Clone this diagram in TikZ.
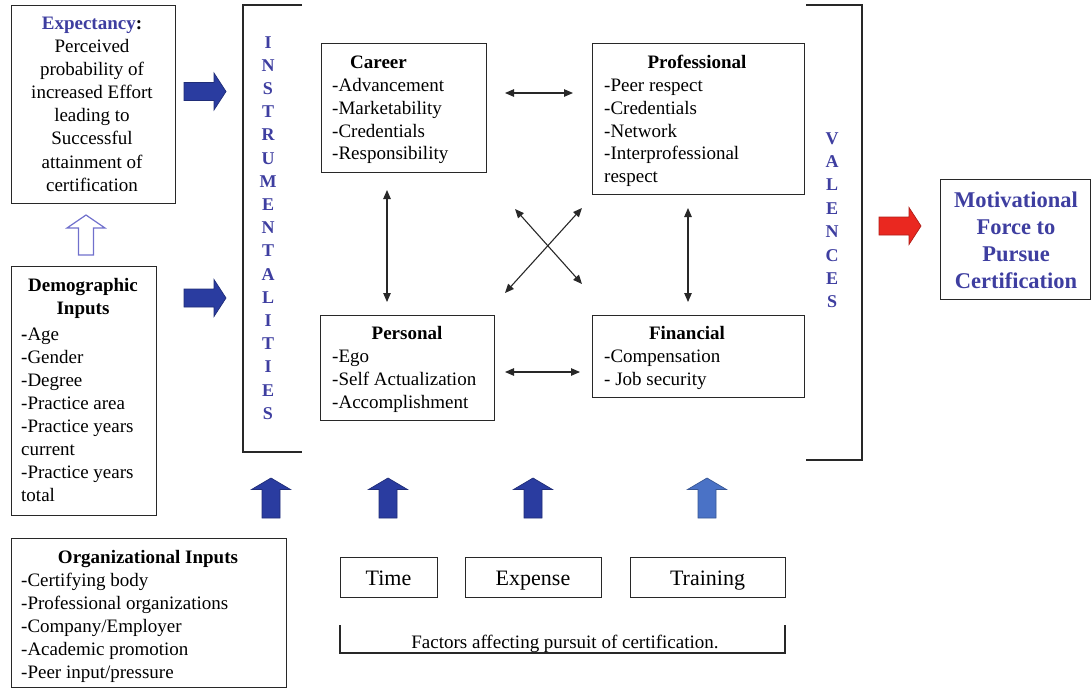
\documentclass[tikz,border=0pt]{standalone}
\usepackage{fontspec}
\setmainfont{Liberation Serif}
\usetikzlibrary{arrows.meta}
\definecolor{tblue}{RGB}{62,62,160}
\definecolor{ablue}{RGB}{42,60,160}
\definecolor{lblue}{RGB}{74,114,198}
\definecolor{ared}{RGB}{234,40,32}
\definecolor{hollowc}{RGB}{112,112,204}
\definecolor{linec}{RGB}{40,40,40}
\newcommand\myuparrow[3]{%
  \filldraw[fill=#3,draw=#3!75!black,line width=0.7] (#1,#2) -- ++(19.5,11.5) -- ++(-10.5,0) -- ++(0,28.5) -- ++(-18,0) -- ++(0,-28.5) -- ++(-10.5,0) -- cycle;}
\newcommand\myrightarrow[3]{%
  \filldraw[fill=#3,draw=#3!75!black,line width=0.7] (#1,#2) -- ++(-12,-18.5) -- ++(0,9.5) -- ++(-30,0) -- ++(0,18) -- ++(30,0) -- ++(0,9.5) -- cycle;}
\tikzset{
  boxn/.style={draw=linec, line width=1.3, inner sep=0, anchor=north west},
  txt/.style={inner sep=0, anchor=base west},
  ctr/.style={inner sep=0, anchor=base},
  dbl/.style={{Triangle[length=9pt,width=7.5pt]}-{Triangle[length=9pt,width=7.5pt]}, line width=1.1, draw=linec},
  brk/.style={draw=linec, line width=1.3},
}
\begin{document}
\begin{tikzpicture}[x=1pt,y=-1pt,font=\fontsize{19}{23}\selectfont]
\useasboundingbox (0,0) rectangle (1091,689);

% ---- Expectancy
\node[boxn, minimum width=164, minimum height=198] (exp) at (11,5) {};
\node[ctr, text=tblue] (e0) at (92,29) {\bfseries Expectancy\textcolor{black}{:}};
\foreach \t [count=\i from 0] in {Perceived,probability of,increased Effort,leading to,Successful,attainment of,certification}
  \node[ctr] (e\i x) at (92,52.5+23.1*\i) {\t};

% hollow arrow
\draw[draw=hollowc, line width=1.2] (86,215) -- ++(19,13) -- ++(-11.5,0) -- ++(0,27) -- ++(-15,0) -- ++(0,-27) -- ++(-11.5,0) -- cycle;

% ---- Demographic
\node[boxn, minimum width=145, minimum height=249] (demo) at (11,266) {};
\node[ctr] (d0) at (83,291) {\bfseries Demographic};
\node[ctr] (d1) at (83,314) {\bfseries Inputs};
\foreach \t [count=\i from 0] in {{\bfseries -}Age,-Gender,-Degree,-Practice area,-Practice years,current,-Practice years,total}
  \node[txt] (d\i x) at (21,340+23*\i) {\t};

% ---- Organizational
\node[boxn, minimum width=275, minimum height=149] (org) at (11,538) {};
\node[ctr] (o0) at (148,563) {\bfseries Organizational Inputs};
\foreach \t [count=\i from 0] in {-Certifying body,-Professional organizations,-Company/Employer,-Academic promotion,-Peer input/pressure}
  \node[txt] (o\i x) at (21,586+23*\i) {\t};

% blue right arrows
\myrightarrow{226}{91.5}{ablue}
\myrightarrow{226}{298}{ablue}

% ---- Instrumentalities bracket
\draw[brk] (302,5) -- (243,5) -- (243,452) -- (302,452);
\foreach \l [count=\i from 0] in {I,N,S,T,R,U,M,E,N,T,A,L,I,T,I,E,S}
  \node[ctr, text=tblue, font=\fontsize{18}{22}\selectfont\bfseries] (ins\i) at (268,48+23.2*\i) {\l};

% ---- Valences bracket
\draw[brk] (806,5) -- (862,5) -- (862,460) -- (806,460);
\foreach \l [count=\i from 0] in {V,A,L,E,N,C,E,S}
  \node[ctr, text=tblue, font=\fontsize{18}{22}\selectfont\bfseries] (val\i) at (832,144+23.4*\i) {\l};

% ---- Career
\node[boxn, minimum width=165, minimum height=129] (career) at (321,43) {};
\node[ctr] (c0) at (378.5,68) {\bfseries Career};
\foreach \t [count=\i from 0] in {-Advancement,-Marketability,-Credentials,-Responsibility}
  \node[txt] (c\i x) at (332,91.5+22.8*\i) {\t};

% ---- Professional
\node[boxn, minimum width=212, minimum height=151] (prof) at (592,43) {};
\node[ctr] (p0) at (697,68) {\bfseries Professional};
\foreach \t [count=\i from 0] in {-Peer respect,-Credentials,-Network,-Interprofessional,respect}
  \node[txt] (p\i x) at (604,91.5+22.8*\i) {\t};

% ---- Personal
\node[boxn, minimum width=174, minimum height=105] (pers) at (320,315) {};
\node[ctr] (q0) at (407,339) {\bfseries Personal};
\foreach \t [count=\i from 0] in {-Ego,-Self Actualization,-Accomplishment}
  \node[txt] (q\i x) at (332,362+23.3*\i) {\t};

% ---- Financial
\node[boxn, minimum width=212, minimum height=82] (fin) at (592,315) {};
\node[ctr] (f0) at (687,339) {\bfseries Financial};
\foreach \t [count=\i from 0] in {-Compensation,- Job security}
  \node[txt] (f\i x) at (604,362+23.3*\i) {\t};

% ---- connectors between value boxes
\coordinate (cpA) at (505,93);  \coordinate (cpB) at (573,93);
\coordinate (pfA) at (505,372); \coordinate (pfB) at (580,372);
\coordinate (ccA) at (387,190); \coordinate (ccB) at (387,302);
\coordinate (ppA) at (688,208); \coordinate (ppB) at (688,302);
\coordinate (xA) at (515,209);  \coordinate (xB) at (582,284);
\coordinate (yA) at (582,208);  \coordinate (yB) at (505,293);
\draw[dbl] (cpA) -- (cpB);
\draw[dbl] (pfA) -- (pfB);
\draw[dbl] (ccA) -- (ccB);
\draw[dbl] (ppA) -- (ppB);
\draw[dbl] (xA) -- (xB);
\draw[dbl] (yA) -- (yB);

% ---- red arrow and motivational force
\myrightarrow{921}{226}{ared}
\node[boxn, minimum width=150, minimum height=120] (mot) at (940,179) {};
\foreach \t [count=\i from 0] in {Motivational,Force to,Pursue,Certification}
  \node[ctr, text=tblue, font=\fontsize{22.5}{27}\selectfont\bfseries] (m\i) at (1016,207+27*\i) {\t};

% ---- bottom up arrows
\myuparrow{271}{478}{ablue}
\myuparrow{388}{478}{ablue}
\myuparrow{533}{478}{ablue}
\myuparrow{707}{478}{lblue}

% ---- factor boxes
\node[boxn, minimum width=97, minimum height=40] (time) at (340,557) {};
\node[boxn, minimum width=136, minimum height=40] (expense) at (465,557) {};
\node[boxn, minimum width=155, minimum height=40] (training) at (630,557) {};
\node[ctr, font=\fontsize{22}{26}\selectfont] (tt) at (388.5,585) {Time};
\node[ctr, font=\fontsize{22}{26}\selectfont] (et) at (533,585) {Expense};
\node[ctr, font=\fontsize{22}{26}\selectfont] (rt) at (707.5,585) {Training};

% ---- factors bracket
\draw[brk] (340,625) -- (340,653) -- (785,653) -- (785,625);
\node[ctr] (fac) at (565,648) {Factors affecting pursuit of certification.};
\end{tikzpicture}
\end{document}
